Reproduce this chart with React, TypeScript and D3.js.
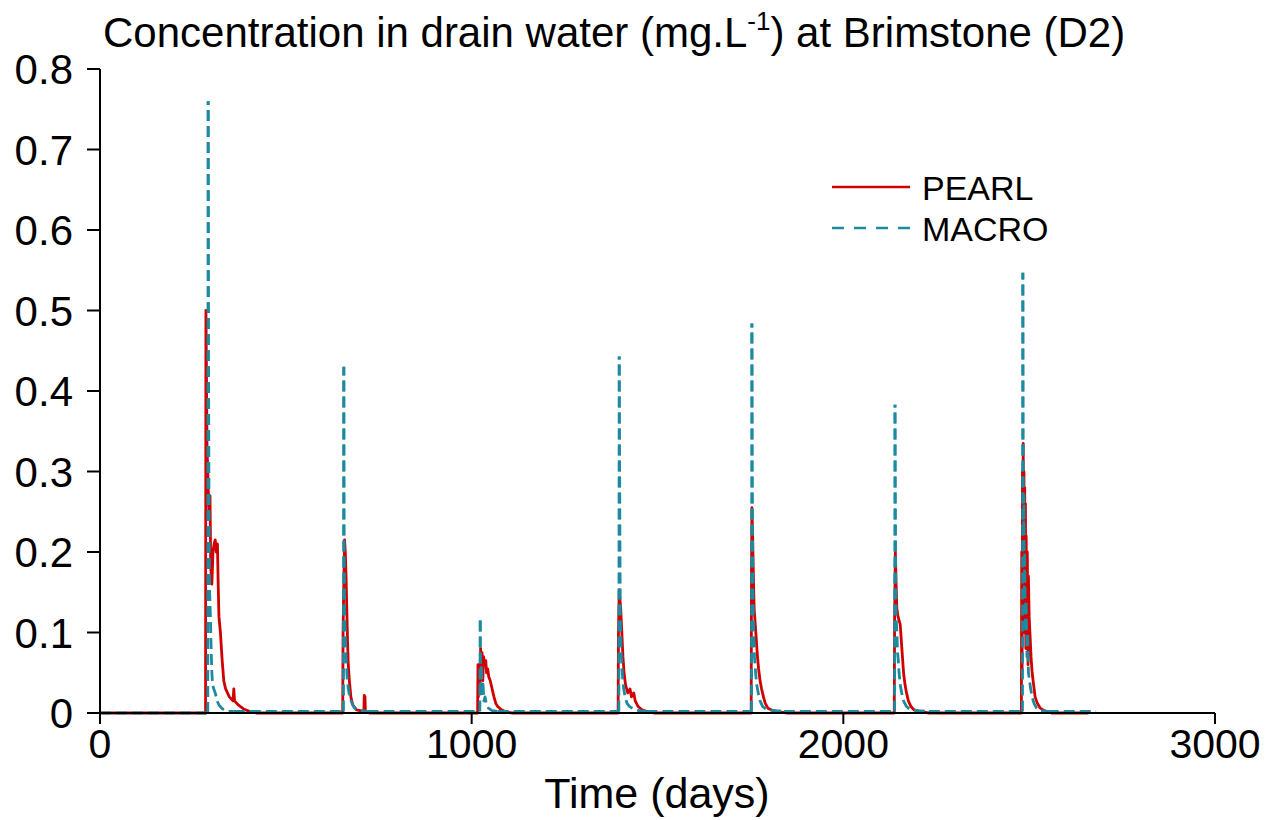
import React from "react";
import * as d3 from "d3";

// ---------- DATA ----------
const xTicks = [0, 1000, 2000, 3000];
const yTicks = [0, 0.1, 0.2, 0.3, 0.4, 0.5, 0.6, 0.7, 0.8];

// PEARL: [day, concentration mg/L]
const pearlEvent1: [number, number][] = [
  [284, 0], [285, 0.5], [286, 0.45], [288, 0.33], [290, 0.3], [293, 0.25], [296, 0.27], [298, 0.18],
  [301, 0.16], [304, 0.2], [307, 0.21], [310, 0.215], [313, 0.2], [316, 0.21], [318, 0.16],
  [320, 0.12], [324, 0.1], [328, 0.07], [333, 0.04], [338, 0.03], [348, 0.02], [358, 0.015],
  [360, 0.03], [362, 0.015], [372, 0.01], [386, 0.005], [402, 0.002], [420, 0],
];
const pearlEvent2: [number, number][] = [
  [653, 0], [654, 0.1], [656, 0.16], [658, 0.215], [660, 0.2], [662, 0.17], [664, 0.13],
  [666, 0.09], [668, 0.06], [671, 0.04], [675, 0.02], [680, 0.01], [690, 0.004], [710, 0.002],
  [711, 0.022], [713, 0.02], [714, 0.002], [725, 0],
];
const pearlEvent3: [number, number][] = [
  [1016, 0], [1017, 0.06], [1018, 0.02], [1020, 0.055], [1022, 0.03], [1024, 0.08], [1026, 0.05],
  [1028, 0.075], [1030, 0.04], [1032, 0.07], [1035, 0.06], [1038, 0.065], [1040, 0.05],
  [1043, 0.055], [1046, 0.045], [1050, 0.04], [1055, 0.03], [1060, 0.02], [1065, 0.012],
  [1070, 0.008], [1080, 0.004], [1095, 0.001], [1110, 0],
];
const pearlEvent4: [number, number][] = [
  [1394, 0], [1395, 0.1], [1397, 0.153], [1399, 0.14], [1401, 0.13], [1403, 0.11], [1405, 0.09],
  [1407, 0.07], [1410, 0.05], [1414, 0.035], [1420, 0.025], [1426, 0.03], [1430, 0.02],
  [1436, 0.025], [1440, 0.015], [1448, 0.008], [1458, 0.004], [1470, 0.002], [1490, 0],
];
const pearlEvent5: [number, number][] = [
  [1752, 0], [1753, 0.18], [1754, 0.255], [1756, 0.22], [1758, 0.17], [1760, 0.13], [1763, 0.11],
  [1766, 0.09], [1769, 0.07], [1772, 0.055], [1776, 0.04], [1780, 0.03], [1785, 0.02],
  [1790, 0.012], [1797, 0.006], [1810, 0.003], [1830, 0.001], [1850, 0],
];
const pearlEvent6: [number, number][] = [
  [2137, 0], [2138, 0.12], [2140, 0.2], [2142, 0.16], [2144, 0.13], [2147, 0.12], [2150, 0.115],
  [2153, 0.11], [2156, 0.09], [2159, 0.07], [2162, 0.05], [2166, 0.035], [2170, 0.025],
  [2175, 0.015], [2182, 0.008], [2190, 0.004], [2205, 0.002], [2230, 0],
];
const pearlEvent7: [number, number][] = [
  [2479, 0], [2480, 0.2], [2481, 0.05], [2482, 0.3], [2483, 0.12], [2484, 0.335], [2485, 0.15],
  [2486, 0.3], [2487, 0.1], [2488, 0.28], [2489, 0.12], [2490, 0.26], [2491, 0.08], [2492, 0.22],
  [2494, 0.1], [2495, 0.2], [2497, 0.06], [2498, 0.17], [2500, 0.12], [2502, 0.1], [2505, 0.07],
  [2508, 0.05], [2512, 0.035], [2516, 0.02], [2522, 0.012], [2530, 0.006], [2540, 0.003], [2560, 0],
];

// MACRO: [day, concentration mg/L]
const macroEvent1: [number, number][] = [
  [290, 0], [291, 0.76], [292, 0.43], [293, 0.3], [294, 0.2], [295, 0.15], [297, 0.12],
  [299, 0.08], [301, 0.05], [303, 0.035], [306, 0.03], [310, 0.025], [315, 0.015], [320, 0.01],
  [330, 0.005], [345, 0.002], [360, 0.002],
];
const macroEvent2: [number, number][] = [
  [655, 0.002], [656, 0.43], [657, 0.2], [658, 0.13], [660, 0.1], [662, 0.07], [665, 0.045],
  [668, 0.03], [672, 0.02], [678, 0.012], [685, 0.006], [700, 0.003], [720, 0.002],
];
const macroEvent3: [number, number][] = [
  [1022, 0.002], [1023, 0.115], [1024, 0.03], [1026, 0.06], [1028, 0.02], [1030, 0.04], [1033, 0.015],
  [1036, 0.02], [1040, 0.01], [1045, 0.006], [1055, 0.003], [1070, 0.002],
];
const macroEvent4: [number, number][] = [
  [1396, 0.002], [1397, 0.443], [1398, 0.32], [1399, 0.2], [1400, 0.12], [1402, 0.08], [1404, 0.06],
  [1406, 0.045], [1409, 0.03], [1413, 0.02], [1418, 0.012], [1425, 0.008], [1435, 0.005],
  [1450, 0.003], [1470, 0.002],
];
const macroEvent5: [number, number][] = [
  [1753, 0.002], [1754, 0.484], [1755, 0.3], [1756, 0.2], [1757, 0.14], [1759, 0.1], [1761, 0.07],
  [1764, 0.05], [1767, 0.035], [1771, 0.025], [1776, 0.015], [1783, 0.008], [1795, 0.004],
  [1815, 0.003], [1840, 0.002],
];
const macroEvent6: [number, number][] = [
  [2138, 0.002], [2139, 0.383], [2140, 0.26], [2141, 0.17], [2142, 0.12], [2144, 0.1], [2146, 0.075],
  [2148, 0.065], [2150, 0.05], [2153, 0.035], [2157, 0.025], [2162, 0.015], [2170, 0.008],
  [2180, 0.004], [2200, 0.003], [2230, 0.002],
];
const macroEvent7: [number, number][] = [
  [2482, 0.002], [2483, 0.547], [2484, 0.3], [2485, 0.22], [2486, 0.27], [2487, 0.15], [2488, 0.2],
  [2490, 0.1], [2492, 0.14], [2494, 0.07], [2496, 0.1], [2498, 0.05], [2501, 0.04], [2504, 0.03],
  [2508, 0.02], [2513, 0.012], [2520, 0.006], [2530, 0.003], [2550, 0.002],
];

const seriesStart: [number, number] = [0, 0];
const pearlEnd: [number, number] = [2660, 0];
const macroEnd: [number, number] = [2680, 0.002];

const pearlEvents = [pearlEvent1, pearlEvent2, pearlEvent3, pearlEvent4, pearlEvent5, pearlEvent6, pearlEvent7];
const macroEvents = [macroEvent1, macroEvent2, macroEvent3, macroEvent4, macroEvent5, macroEvent6, macroEvent7];

const legendLabels = ["PEARL", "MACRO"];

// ---------- STYLE ----------
const RED = "#d00000";
const TEAL = "#1d8aa0";
const FONT = "'Liberation Sans', Arial, Helvetica, sans-serif";
const DASH = 11;
const GAP = 5;

export default function App() {
  const W = 1267, H = 820;
  const x = d3.scaleLinear().domain([0, 3000]).range([100, 1215]);
  const y = d3.scaleLinear().domain([0, 0.8]).range([713, 69]);
  const line = d3.line<[number, number]>().x(d => x(d[0])).y(d => y(d[1]));

  const pearlSeries = [seriesStart, ...pearlEvents.flat(), pearlEnd];

  // MACRO drawn as pieces: baseline links, spike rise, and decay (dash phase aligned with rise)
  const P = DASH + GAP;
  const macroPieces: { pts: [number, number][]; offset: number }[] = [];
  let prev: [number, number] = seriesStart;
  macroEvents.forEach(ev => {
    macroPieces.push({ pts: [prev, ev[0]], offset: 0 });
    const rise: [number, number][] = [ev[0], ev[1]];
    const L = Math.hypot(x(ev[1][0]) - x(ev[0][0]), y(ev[1][1]) - y(ev[0][1]));
    macroPieces.push({ pts: rise, offset: 0 });
    macroPieces.push({ pts: ev.slice(1), offset: (((DASH - L) % P) + P) % P });
    prev = ev[ev.length - 1];
  });
  macroPieces.push({ pts: [prev, macroEnd], offset: 0 });

  return (
    <svg width={W} height={H} style={{ position: "absolute", left: 0, top: 0, background: "#fff" }}
      fontFamily={FONT}>
      <rect width={W} height={H} fill="#fff" />
      {/* Title */}
      <text x={103} y={47} fontSize={42} fill="#000">
        Concentration in drain water (mg.L
        <tspan dy={-17} fontSize={26}>-1</tspan>
        <tspan dy={17}>) at Brimstone (D2)</tspan>
      </text>

      {/* Data */}
      <path d={line(pearlSeries) || ""} fill="none" stroke={RED} strokeWidth={2.8} strokeLinejoin="round" />
      {macroPieces.map((p, i) => (
        <path key={i} d={line(p.pts) || ""} fill="none" stroke={TEAL} strokeWidth={2.8}
          strokeDasharray={`${DASH},${GAP}`} strokeDashoffset={p.offset} strokeLinejoin="round" />
      ))}

      {/* Axes */}
      <line x1={x(0)} x2={x(3000)} y1={y(0)} y2={y(0)} stroke="#000" strokeWidth={2.2} />
      <line x1={x(0)} x2={x(0)} y1={y(0)} y2={y(0.8)} stroke="#000" strokeWidth={2} />
      {yTicks.map(t => (
        <g key={"y" + t}>
          <line x1={x(0) - 13} x2={x(0)} y1={y(t)} y2={y(t)} stroke="#000" strokeWidth={2} />
          <text x={73} y={y(t)} dy="0.36em" textAnchor="end" fontSize={42}>
            {t === 0 ? "0" : d3.format(".1f")(t)}
          </text>
        </g>
      ))}
      {xTicks.map(t => (
        <g key={"x" + t}>
          <line x1={x(t)} x2={x(t)} y1={y(0)} y2={y(0) + 11} stroke="#000" strokeWidth={2} />
          <text x={x(t)} y={758} textAnchor="middle" fontSize={41}>{t}</text>
        </g>
      ))}
      <text x={657} y={808} textAnchor="middle" fontSize={43}>Time (days)</text>

      {/* Legend */}
      <line x1={832} x2={910} y1={187} y2={187} stroke={RED} strokeWidth={2.6} />
      <text x={922} y={200} fontSize={34}>{legendLabels[0]}</text>
      <line x1={832} x2={910} y1={228} y2={228} stroke={TEAL} strokeWidth={2.6} strokeDasharray="12,10" />
      <text x={922} y={241} fontSize={34}>{legendLabels[1]}</text>
    </svg>
  );
}
